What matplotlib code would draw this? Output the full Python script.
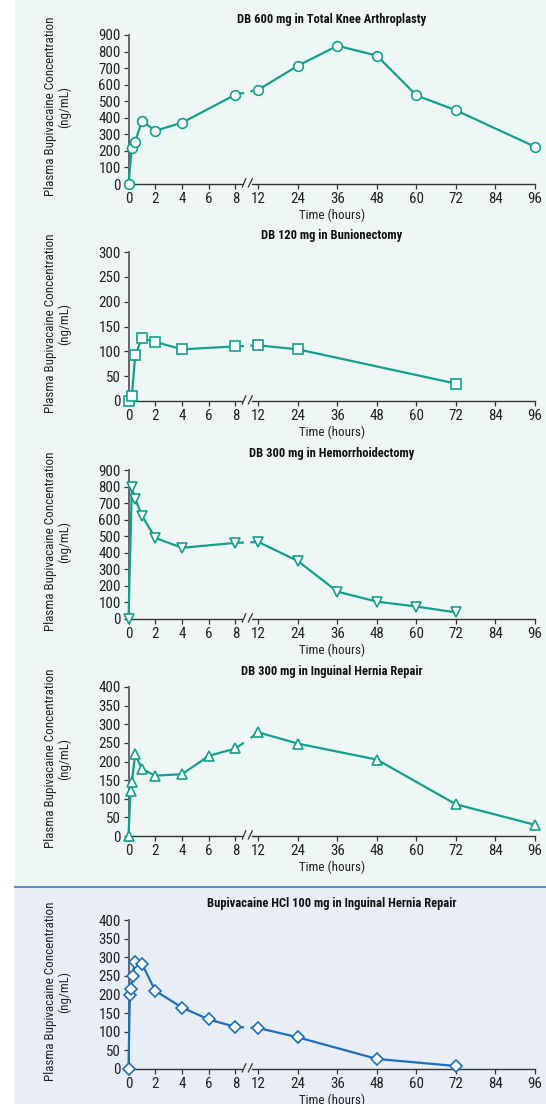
import numpy as np
import matplotlib
matplotlib.use('Agg')
import matplotlib.pyplot as plt
from matplotlib.patches import Rectangle
from matplotlib import font_manager

# narrow sans if one is around, else Liberation Sans (Arial metrics)
installed = {f.name for f in font_manager.fontManager.ttflist}
fam = 'Liberation Sans'
for cand in ['Liberation Sans Narrow', 'Roboto Condensed', 'Arial Narrow', 'Open Sans Condensed']:
    if cand in installed:
        fam = cand
        break
narrow = fam != 'Liberation Sans'
plt.rcParams['font.family'] = [fam, 'DejaVu Sans']

# ---- data (hours, ng/mL) ----
tka_t = [0, 0.25, 0.5, 1, 2, 4, 8, 12, 24, 36, 48, 60, 72, 96]
tka_c = [0, 220, 255, 380, 322, 370, 540, 570, 715, 835, 775, 535, 445, 225]

bun_t = [0, 0.25, 0.5, 1, 2, 4, 8, 12, 24, 72]
bun_c = [0, 10, 92, 126, 119, 104, 110, 112, 104, 35]

hem_t = [0, 0.25, 0.5, 1, 2, 4, 8, 12, 24, 36, 48, 60, 72]
hem_c = [0, 795, 725, 625, 490, 430, 460, 465, 350, 165, 105, 75, 40]

ing_t = [0, 0.15, 0.25, 0.5, 1, 2, 4, 6, 8, 12, 24, 48, 72, 96]
ing_c = [0, 120, 145, 220, 180, 162, 166, 215, 235, 278, 248, 205, 85, 30]

hcl_t = [0, 0.1, 0.2, 0.3, 0.5, 1, 2, 4, 6, 8, 12, 24, 48, 72]
hcl_c = [0, 200, 215, 250, 288, 283, 210, 165, 133, 113, 110, 85, 27, 8]

titles = ['DB 600 mg in Total Knee Arthroplasty',
          'DB 120 mg in Bunionectomy',
          'DB 300 mg in Hemorrhoidectomy',
          'DB 300 mg in Inguinal Hernia Repair',
          'Bupivacaine HCl 100 mg in Inguinal Hernia Repair']
ymax = [900, 300, 900, 400, 400]
ystep = [100, 50, 100, 50, 50]
markers = ['o', 's', 'v', '^', 'D']
xticks = [0, 2, 4, 6, 8, 12, 24, 36, 48, 60, 72, 84, 96]

TEAL = '#12a08c'
BLUE = '#1c6fb8'

# broken time axis: 0-8 h stretched, 12-96 h compressed
U12 = 9.72
K = 0.2462


def fwd(t):
    t = np.asarray(t, dtype=float)
    return np.where(t <= 8, t,
                    np.where(t < 12, 8 + (t - 8) * (U12 - 8) / 4,
                             U12 + (t - 12) * K))


def inv(u):
    u = np.asarray(u, dtype=float)
    return np.where(u <= 8, u,
                    np.where(u < U12, 8 + (u - 8) * 4 / (U12 - 8),
                             12 + (u - U12) / K))


GAP_A, GAP_B = 8.55, 9.2
SL1, SL2 = (8.51, 8.77), (8.96, 9.26)

fs_tick = 10.8 if narrow else 8.8
fs_lab = 9.4 if narrow else 7.9
fs_title = 9 if narrow else 8.1

fig = plt.figure(figsize=(5.46, 11.04), dpi=100)
W, H = 546, 1104
fig.patches.append(Rectangle((15 / W, 0), 1, 1, transform=fig.transFigure,
                             color='#eef7f5', zorder=-10))
fig.patches.append(Rectangle((15 / W, 0), 1, (H - 887) / H, transform=fig.transFigure,
                             color='#e9edf6', zorder=-9))
fig.lines.append(plt.Line2D([15 / W, 1], [(H - 886.5) / H] * 2, transform=fig.transFigure,
                            color='#3a78bd', lw=1.2))

zero_px = [184, 401, 619, 836, 1069]
data = [(tka_t, tka_c), (bun_t, bun_c), (hem_t, hem_c), (ing_t, ing_c), (hcl_t, hcl_c)]

for i in range(5):
    ax = fig.add_axes([128.5 / W, (H - zero_px[i]) / H, 406.5 / W, 149 / H])
    ax.set_facecolor('none')
    ax.set_xscale('function', functions=(fwd, inv))
    ax.set_xlim(0, 96)
    ax.set_ylim(0, ymax[i])
    t, c = np.array(data[i][0], float), np.array(data[i][1], float)
    col = BLUE if i == 4 else TEAL

    ta, tb = float(inv(GAP_A)), float(inv(GAP_B))
    left = t <= 8
    right = t >= 12
    xa = np.append(t[left], ta)
    ya = np.append(c[left], np.interp(ta, t, c))
    xb = np.insert(t[right], 0, tb)
    yb = np.insert(c[right], 0, np.interp(tb, t, c))
    ax.plot(xa, ya, color=col, lw=1.6, clip_on=False, zorder=3)
    ax.plot(xb, yb, color=col, lw=1.6, clip_on=False, zorder=3)
    ax.plot(t, c, ls='none', marker=markers[i], ms=7 if i != 4 else 6.5,
            mfc='white', mec=col, mew=1.2, clip_on=False, zorder=4)

    for s in ['top', 'right', 'bottom']:
        ax.spines[s].set_visible(False)
    ax.spines['left'].set_color('#666666')
    ax.spines['left'].set_linewidth(1.4)

    # x axis drawn in two pieces with break marks
    xt = ax.get_xaxis_transform()
    ax.plot([0, float(inv(SL1[0]))], [0, 0], transform=xt, color='#333333', lw=1.0, clip_on=False)
    ax.plot([float(inv(SL2[1])), 96], [0, 0], transform=xt, color='#333333', lw=1.0, clip_on=False)
    for a, b in (SL1, SL2):
        ax.plot([float(inv(a)), float(inv(b))], [-0.02, 0.035], transform=xt,
                color='#333333', lw=0.9, clip_on=False)

    ax.set_xticks(xticks)
    ax.set_xticklabels([str(v) for v in xticks])
    ax.minorticks_off()
    ax.set_yticks(np.arange(0, ymax[i] + 1, ystep[i]))
    ax.tick_params(axis='both', direction='out', length=3.5, width=0.9,
                   color='#333333', labelsize=fs_tick, labelcolor='#222222', pad=2)

    ax.set_title(titles[i], fontsize=fs_title, fontweight='bold', color='#111111', pad=9)
    ax.set_xlabel('Time (hours)', fontsize=fs_lab, color='#222222', labelpad=2)
    ax.set_ylabel('Plasma Bupivacaine Concentration\n(ng/mL)', fontsize=fs_lab,
                  color='#222222', linespacing=1.15)
    ax.yaxis.set_label_coords(-0.14, 0.52)

fig.savefig('out.png', dpi=100)
